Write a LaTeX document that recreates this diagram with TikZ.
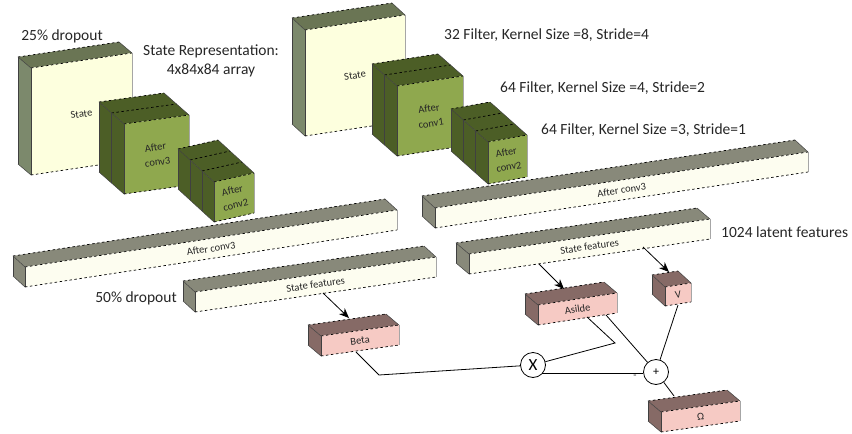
\documentclass[tikz,border=0pt]{standalone}
\usepackage{fontspec}
\setmainfont{Carlito}
\usetikzlibrary{arrows.meta}
\definecolor{palefront}{RGB}{253,255,222}
\definecolor{paletop}{RGB}{106,117,84}
\definecolor{paleside}{RGB}{124,137,108}
\definecolor{convfront}{RGB}{143,168,78}
\definecolor{convtop}{RGB}{76,94,38}
\definecolor{barfront}{RGB}{253,253,240}
\definecolor{bartop}{RGB}{136,137,122}
\definecolor{pinkfront}{RGB}{246,202,196}
\definecolor{pinktop}{RGB}{134,106,102}
\tikzset{
  pale front/.style={fill=palefront},
  pale top/.style={fill=paletop},
  pale side/.style={fill=paleside},
  conv front/.style={fill=convfront},
  conv top/.style={fill=convtop},
  conv side/.style={fill=convtop},
  bar front/.style={fill=barfront},
  bar top/.style={fill=bartop},
  bar side/.style={fill=bartop},
  pink front/.style={fill=pinkfront},
  pink top/.style={fill=pinktop},
  pink side/.style={fill=pinktop},
  edg/.style={black,line width=.7pt,dash pattern=on 2.5pt off 2.5pt},
  sid/.style={black!75,line width=.5pt},
  ar/.style={-{Stealth[length=3.5mm,width=2.9mm]},black,line width=.8pt},
  lnk/.style={black,line width=.8pt},
  opr/.style={circle,draw=black,fill=white,line width=.8pt,minimum size=25pt,inner sep=0pt},
  lbl/.style={font=\fontsize{10.5}{15}\selectfont,align=center,text=black!85,inner sep=0pt},
  hdr/.style={font=\fontsize{15.5}{19}\selectfont,align=center,text=black!85,inner sep=0pt},
}
\begin{document}
\begin{tikzpicture}[x=1pt,y=-1pt]
  \useasboundingbox (0,0) rectangle (852,434);
  % name / front top left / width, rise / height / depth offset / kind / slabs / text
  \foreach \nm/\bx/\by/\bw/\bu/\bh/\ox/\oy/\kind/\ns/\txt in {
    stateL/31/68/101/15/107/-13/-11/pale/1/{State},
    convaL/124/124/65/9/70/-25/-22/conv/2/{After\\conv3},
    convbL/214/182/40/9/40/-36/-33/conv/3/{After\\conv2},
    longL/25/267/372/57/20/-12/-11/bar/1/{After conv3},
    featL/195/292/241/35/20/-12/-11/bar/1/{State features},
    beta/321/336/78/11/20/-13/-11/pink/1/{Beta},
    stateR/305/30/100/15/106/-13/-12/pale/1/{State},
    convaR/397/86/66/10/70/-25/-22/conv/2/{After\\conv1},
    convbR/488/142/39/7/42/-37/-33/conv/3/{After\\conv2},
    longR/435/208/373/56/20/-13/-12/bar/1/{After conv3},
    featR/469/254/241/35/20/-13/-11/bar/1/{State features},
    asilde/538/305/79/12/20/-13/-11/pink/1/{Asilde},
    vval/665/287/26/4/19/-13/-12/pink/1/{V},
    omega/661/412/79/11/20/-13/-11/pink/1/{Ω}}{
    \pgfmathsetmacro{\ang}{atan(\bu/\bw)}
    \fill[\kind\space side] (\bx,\by) -- ++(\ox,\oy) -- ++(0,\bh) -- (\bx,\by+\bh) -- cycle;
    \fill[\kind\space top] (\bx,\by) -- ++(\ox,\oy) -- ++(\bw,-\bu) -- (\bx+\bw,\by-\bu) -- cycle;
    \fill[\kind\space front] (\bx,\by) -- ++(\bw,-\bu) -- ++(0,\bh) -- (\bx,\by+\bh) -- cycle;
    \foreach \s in {0,...,\ns}{
      \pgfmathsetmacro{\fr}{\s/\ns}
      \draw[edg] (\bx+\fr*\ox,\by+\fr*\oy) -- ++(\bw,-\bu);
      \draw[sid] (\bx+\fr*\ox,\by+\fr*\oy) -- ++(0,\bh);
    }
    \draw[sid] (\bx,\by) -- ++(\ox,\oy);
    \draw[sid] (\bx,\by+\bh) -- ++(\ox,\oy);
    \draw[sid] (\bx+\bw,\by-\bu) -- ++(\ox,\oy);
    \draw[sid,black!35] (\bx+\bw,\by-\bu) -- ++(0,\bh);
    \draw[edg] (\bx,\by+\bh) -- ++(\bw,-\bu);
    \node[lbl,rotate=\ang] (\nm) at (\bx+.5*\bw,\by-.5*\bu+.5*\bh) {\txt};
  }
  % texts
  \node[hdr] (dropa) at (62,36) {25\% dropout};
  \node[hdr] (shape) at (211,61) {State Representation:\\4x84x84 array};
  \node[hdr,anchor=west] (filta) at (444,35) {32 Filter, Kernel Size =8, Stride=4};
  \node[hdr,anchor=west] (filtb) at (500,88) {64 Filter, Kernel Size =4, Stride=2};
  \node[hdr,anchor=west] (filtc) at (541,130) {64 Filter, Kernel Size =3, Stride=1};
  \node[hdr,anchor=west] (latent) at (721,232) {1024 latent features};
  \node[hdr] (dropb) at (136,298) {50\% dropout};
  % operators
  \node[opr,font=\fontsize{17}{17}\selectfont] (mult) at (533,365) {X};
  \node[opr,font=\fontsize{12}{12}\selectfont] (plus) at (656,372) {+};
  \node[lbl] (minus) at (635,377) {-};
  % end points on the boxes
  \coordinate (featLout) at (323,293);
  \coordinate (betain) at (349,318);
  \coordinate (featRouta) at (539,264);
  \coordinate (asildein) at (564,289);
  \coordinate (featRoutb) at (643,247);
  \coordinate (vvalin) at (669,272);
  \coordinate (betaout) at (356,352);
  \coordinate (betabend) at (379,375);
  \coordinate (asildeouta) at (587,317);
  \coordinate (asildebend) at (615,343);
  \coordinate (asildeoutb) at (606,315);
  \coordinate (vvalout) at (678,305);
  \coordinate (omegain) at (674,396);
  \coordinate (plusin) at (plus.west |- 0,373);
  % connectors
  \draw[ar] (featLout) -- (betain);
  \draw[ar] (featRouta) -- (asildein);
  \draw[ar] (featRoutb) -- (vvalin);
  \draw[lnk] (betaout) -- (betabend) -- (mult);
  \draw[lnk] (asildeouta) -- (asildebend) -- (mult);
  \draw[lnk] (asildeoutb) -- (plus);
  \draw[lnk] (vvalout) -- (plus);
  \draw[lnk] (plus) -- (omegain);
  \draw[lnk] (mult.south east |- plusin) -- (plusin);
\end{tikzpicture}
\end{document}
